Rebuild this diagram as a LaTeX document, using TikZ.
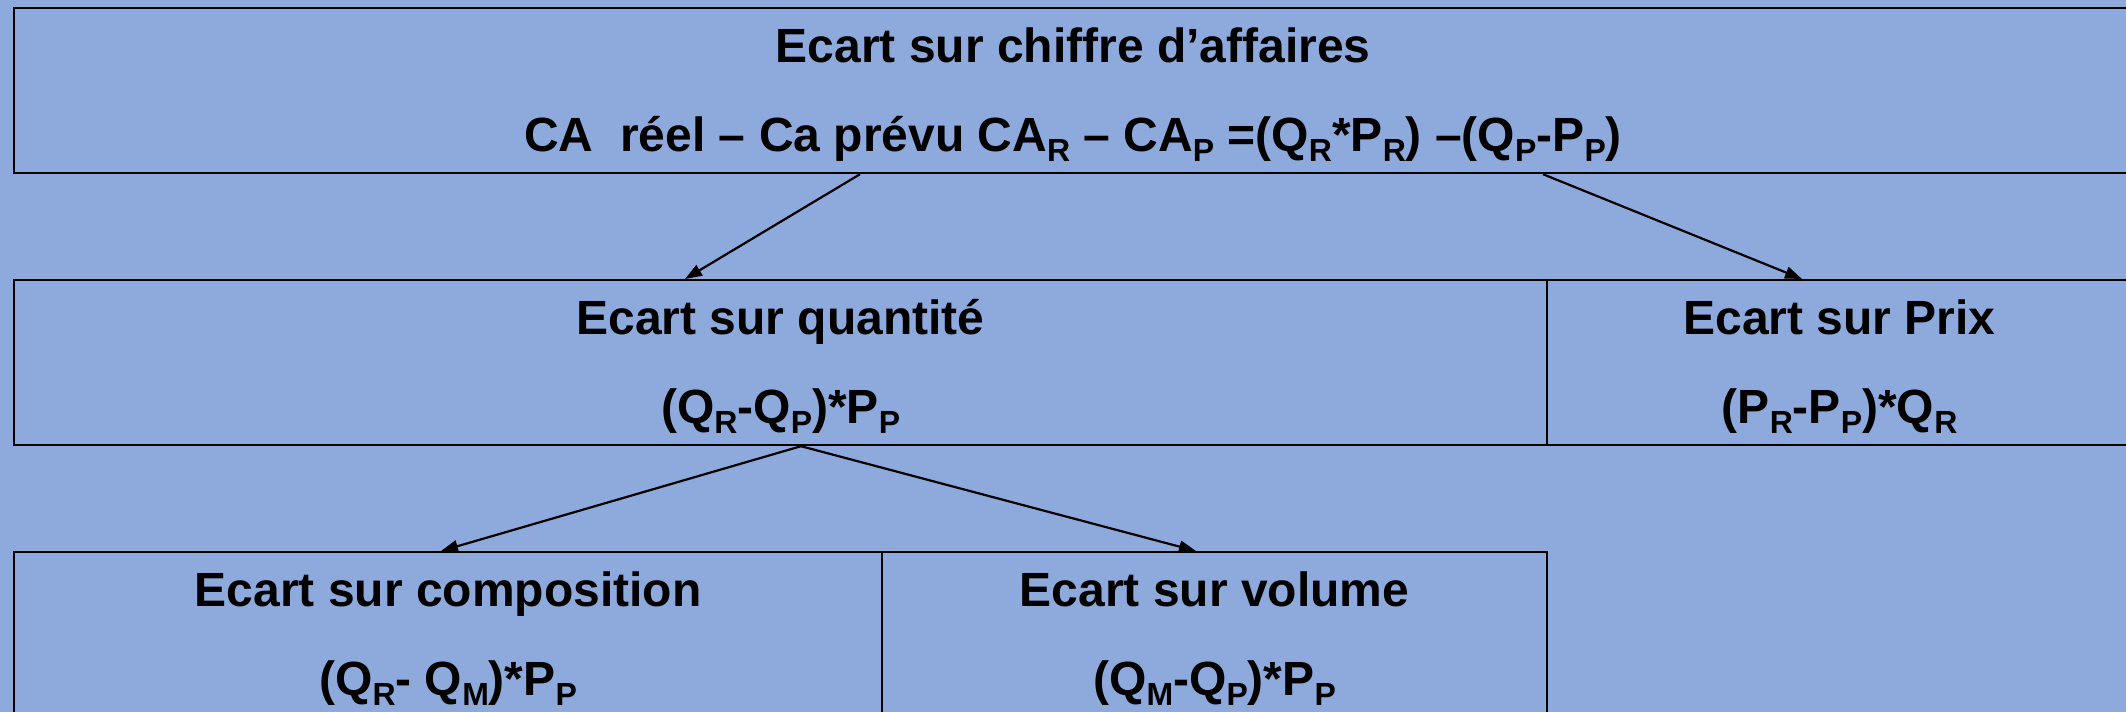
\documentclass[tikz,border=0pt]{standalone}
\usepackage{fontspec}
\setmainfont{Liberation Sans}
\usetikzlibrary{arrows.meta,calc}
\definecolor{bgblue}{RGB}{142,170,220}
\newcommand{\sbs}[1]{\raisebox{-10pt}{\fontsize{32}{32}\selectfont #1}}
\begin{document}
\begin{tikzpicture}[x=1pt,y=-1pt,
  box/.style={draw=black, line width=2.2pt, anchor=north west, inner sep=0pt, minimum height=165pt},
  txt/.style={anchor=base, inner sep=0pt, font=\fontsize{48}{58}\selectfont\bfseries},
  arr/.style={draw=black, line width=2.2pt, -{Triangle[length=17pt,width=12pt]}}]
\fill[bgblue] (0,0) rectangle (2126,712);
\useasboundingbox (0,0) rectangle (2126,712);
% boxes
\node[box, minimum width=2118pt] (top) at (13,7) {};
\node[box, minimum width=1533pt] (qty) at (13,279) {};
\node[box, minimum width=585pt] (prix) at (1546,279) {};
\node[box, minimum width=868pt] (comp) at (13,551) {};
\node[box, minimum width=665pt] (vol) at (881,551) {};
% texts
\node[txt] (topA) at ($(top.north)+(0,55)$) {Ecart sur chiffre d’affaires};
\node[txt] (topB) at ($(top.north)+(0,144)$) {CA\ \ réel – Ca prévu CA\sbs{R} – CA\sbs{P} =(Q\sbs{R}*P\sbs{R}) –(Q\sbs{P}-P\sbs{P})};
\node[txt] (qtyA) at ($(qty.north)+(0,55)$) {Ecart sur quantité};
\node[txt] (qtyB) at ($(qty.north)+(0,144)$) {(Q\sbs{R}-Q\sbs{P})*P\sbs{P}};
\node[txt] (prixA) at ($(prix.north)+(0,55)$) {Ecart sur Prix};
\node[txt] (prixB) at ($(prix.north)+(0,144)$) {(P\sbs{R}-P\sbs{P})*Q\sbs{R}};
\node[txt] (compA) at ($(comp.north)+(0,55)$) {Ecart sur composition};
\node[txt] (compB) at ($(comp.north)+(0,144)$) {(Q\sbs{R}- Q\sbs{M})*P\sbs{P}};
\node[txt] (volA) at ($(vol.north)+(0,55)$) {Ecart sur volume};
\node[txt] (volB) at ($(vol.north)+(0,144)$) {(Q\sbs{M}-Q\sbs{P})*P\sbs{P}};
% arrows
\draw[arr] ([xshift=847pt]top.south west) -- ([xshift=672pt]qty.north west);
\draw[arr] ([xshift=1530pt]top.south west) -- ([xshift=256pt]prix.north west);
\draw[arr] ([xshift=788pt]qty.south west) -- ([xshift=428pt]comp.north west);
\draw[arr] ([xshift=788pt]qty.south west) -- ([xshift=315pt]vol.north west);
\end{tikzpicture}
\end{document}
